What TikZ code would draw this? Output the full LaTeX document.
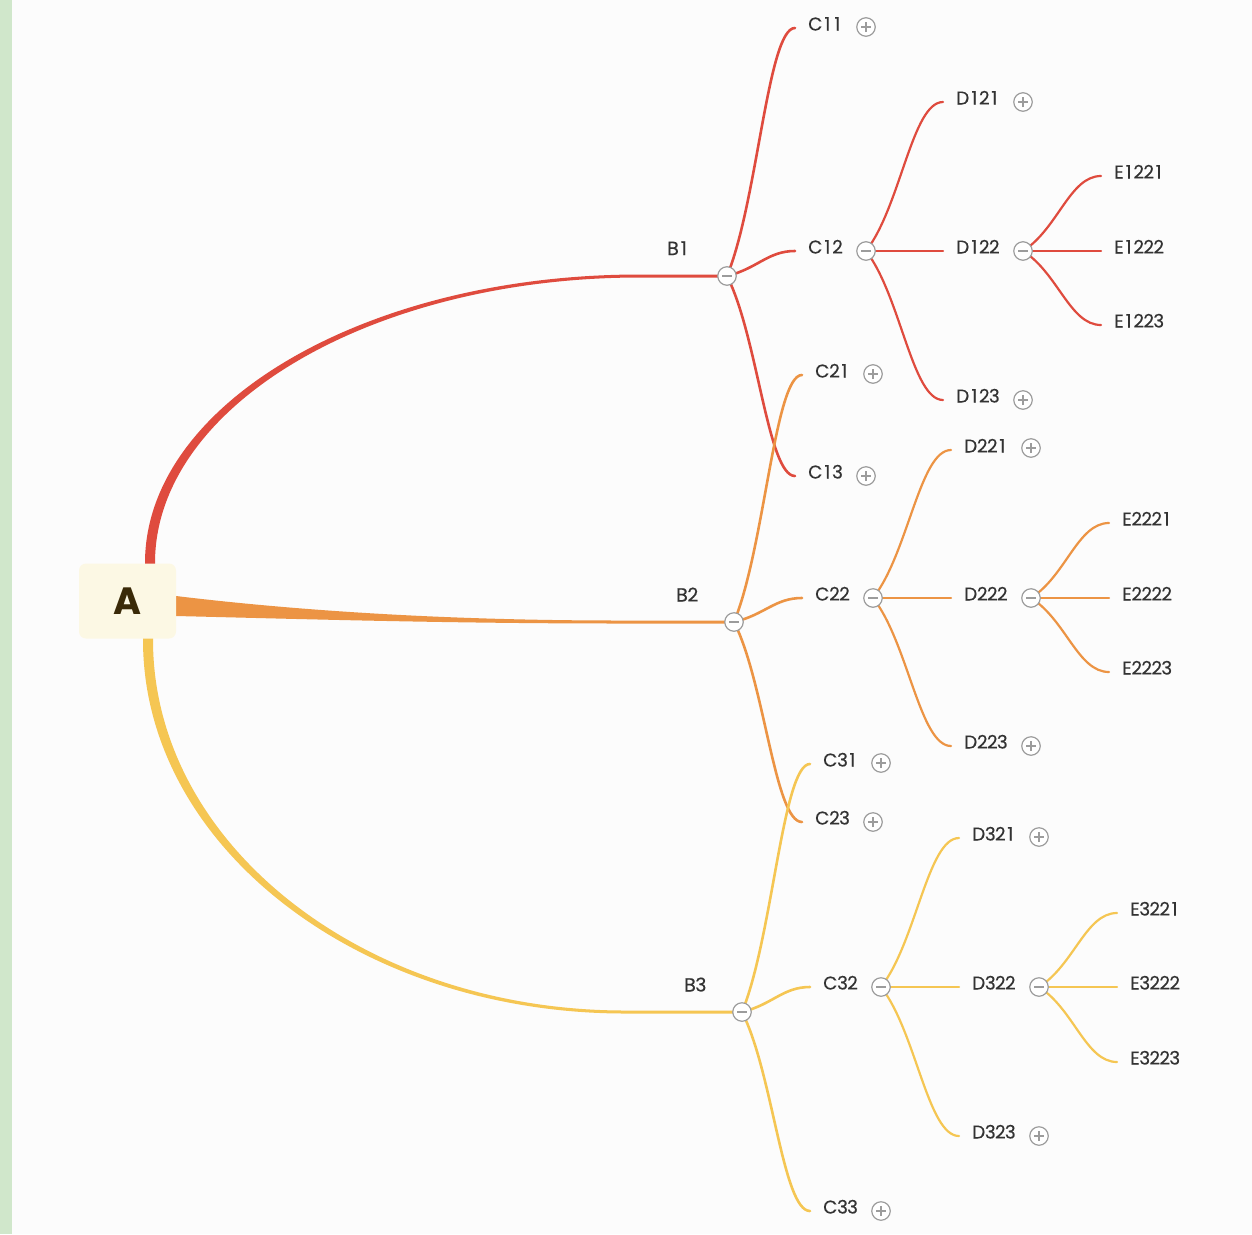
\documentclass[tikz,border=0pt]{standalone}
\usepackage{fontspec}
\setmainfont{Poppins}
\newfontfamily\lblfont{Poppins}[FakeBold=0.3]
\usetikzlibrary{calc}
\pgfdeclarelayer{back}
\pgfdeclarelayer{links}
\pgfsetlayers{back,links,main}
\definecolor{cred}{HTML}{DF4B3E}
\definecolor{corange}{HTML}{EC9444}
\definecolor{cyellow}{HTML}{F5C653}
\definecolor{tgray}{HTML}{333333}
\definecolor{togg}{HTML}{9C9C9C}
\definecolor{bgcol}{HTML}{FCFCFC}
\definecolor{stripcol}{HTML}{D0E7CB}
\definecolor{boxfill}{HTML}{FCF8E4}
\definecolor{atext}{HTML}{3A2A08}
% tabular digit cell
\newcommand\dg[1]{\makebox[10pt][c]{#1}}
\tikzset{
  lbl/.style={anchor=west, inner ysep=0pt, inner xsep=13pt, text height=10pt, text depth=5pt,
    font=\lblfont\fontsize{18.5}{20}\selectfont, text=tgray},
  blbl/.style={anchor=base, inner sep=0pt, font=\lblfont\fontsize{19}{20}\selectfont, text=tgray},
  toggle/.style={circle, draw=togg, line width=1.2pt, fill=white, minimum size=18.5pt, inner sep=0pt},
  minus/.style={toggle, path picture={\draw[togg, line width=1.2pt]
      ([xshift=-5pt]path picture bounding box.center) -- ([xshift=5pt]path picture bounding box.center);}},
  plus/.style={toggle, path picture={\draw[togg, line width=1.2pt]
      ([xshift=-5pt]path picture bounding box.center) -- ([xshift=5pt]path picture bounding box.center)
      ([yshift=-5pt]path picture bounding box.center) -- ([yshift=5pt]path picture bounding box.center);}},
  abox/.style={rounded corners=7pt, fill=boxfill, minimum width=97pt, minimum height=75pt, inner sep=0pt,
    text height=26pt, text depth=0pt, font=\bfseries\fontsize{38}{40}\selectfont, text=atext},
  cw/.style={line width=2.6pt, line cap=round},
  dw/.style={line width=2.2pt, line cap=round}
}
\newcommand\linkto[3]{\draw[#3] let \p1=(#1.center), \p2=(#2.west) in
  (\x1,\y1) .. controls ({\x1+0.45*(\x2-\x1)},{\y1+0.3*(\y2-\y1)}) and ({\x1+0.6*(\x2-\x1)},\y2) .. (\x2,\y2);}
\begin{document}
\begin{tikzpicture}[x=1pt,y=-1pt]
\begin{pgfonlayer}{back}
  \fill[bgcol] (0,0) rectangle (1252,1234);
  \fill[stripcol] (0,0) rectangle (12,1234);
\end{pgfonlayer}
\useasboundingbox (0,0) rectangle (1252,1234);

% root
\node[abox] (A) at (127.5,601) {A};

% B level
\node[minus] (b1) at (727,276) {};
\node[blbl] (b1l) at (678,255) {B\dg1};
\node[minus] (b2) at (734,622) {};
\node[blbl] (b2l) at (687,601.5) {B\dg2};
\node[minus] (b3) at (742,1012) {};
\node[blbl] (b3l) at (695,991.5) {B\dg3};

% B1 subtree
\node[lbl] (c11) at (795,28) {C\dg1\dg1};
\node[plus] (c11t) at (866,27) {};
\node[lbl] (c12) at (795,251) {C\dg1\dg2};
\node[minus] (c12t) at (866,251) {};
\node[lbl] (c13) at (795,476) {C\dg1\dg3};
\node[plus] (c13t) at (866,476) {};
\node[lbl] (d121) at (943,102) {D\dg1\dg2\dg1};
\node[plus] (d121t) at (1023,102) {};
\node[lbl] (d122) at (943,251) {D\dg1\dg2\dg2};
\node[minus] (d122t) at (1023,251) {};
\node[lbl] (d123) at (943,400) {D\dg1\dg2\dg3};
\node[plus] (d123t) at (1023,400) {};
\node[lbl] (e1221) at (1101,176) {E\dg1\dg2\dg2\dg1};
\node[lbl] (e1222) at (1101,251) {E\dg1\dg2\dg2\dg2};
\node[lbl] (e1223) at (1101,325) {E\dg1\dg2\dg2\dg3};

% B2 subtree
\node[lbl] (c21) at (802,375) {C\dg2\dg1};
\node[plus] (c21t) at (873,374) {};
\node[lbl] (c22) at (802,598) {C\dg2\dg2};
\node[minus] (c22t) at (873,598) {};
\node[lbl] (c23) at (802,822) {C\dg2\dg3};
\node[plus] (c23t) at (873,822) {};
\node[lbl] (d221) at (951,450) {D\dg2\dg2\dg1};
\node[plus] (d221t) at (1031,448) {};
\node[lbl] (d222) at (951,598) {D\dg2\dg2\dg2};
\node[minus] (d222t) at (1031,598) {};
\node[lbl] (d223) at (951,746) {D\dg2\dg2\dg3};
\node[plus] (d223t) at (1031,746) {};
\node[lbl] (e2221) at (1109,523) {E\dg2\dg2\dg2\dg1};
\node[lbl] (e2222) at (1109,598) {E\dg2\dg2\dg2\dg2};
\node[lbl] (e2223) at (1109,672) {E\dg2\dg2\dg2\dg3};

% B3 subtree
\node[lbl] (c31) at (810,764) {C\dg3\dg1};
\node[plus] (c31t) at (881,763) {};
\node[lbl] (c32) at (810,987) {C\dg3\dg2};
\node[minus] (c32t) at (881,987) {};
\node[lbl] (c33) at (810,1211) {C\dg3\dg3};
\node[plus] (c33t) at (881,1211) {};
\node[lbl] (d321) at (959,838) {D\dg3\dg2\dg1};
\node[plus] (d321t) at (1039,837) {};
\node[lbl] (d322) at (959,987) {D\dg3\dg2\dg2};
\node[minus] (d322t) at (1039,987) {};
\node[lbl] (d323) at (959,1136) {D\dg3\dg2\dg3};
\node[plus] (d323t) at (1039,1136) {};
\node[lbl] (e3221) at (1117,913) {E\dg3\dg2\dg2\dg1};
\node[lbl] (e3222) at (1117,987) {E\dg3\dg2\dg2\dg2};
\node[lbl] (e3223) at (1117,1062) {E\dg3\dg2\dg2\dg3};

\begin{pgfonlayer}{links}
  % main tapered branches
  \fill[cred] (145,600) -- (145,563) .. controls (145,403.7) and (366.3,274.5) .. (640,274.5)
     -- ([yshift=1.5pt]b1.center) -- ([yshift=-1.5pt]b1.center) -- (640,277.5)
     .. controls (372.4,277.5) and (155,405.3) .. (155,563) -- (155,600) -- cycle;
  \fill[corange] (150,596) -- (176,596) .. controls (300,611) and (450,620.5) .. (620,620.5)
     -- ([yshift=1.5pt]b2.center) -- ([yshift=-1.5pt]b2.center) -- (620,623.5)
     .. controls (450,623.5) and (300,619) .. (176,616) -- (150,616) -- cycle;
  \fill[cyellow] (143,600) -- (143,640) .. controls (143,846.3) and (358.8,1013.5) .. (625,1013.5)
     -- ([yshift=-1.5pt]b3.center) -- ([yshift=1.5pt]b3.center) -- (625,1010.5)
     .. controls (364.3,1010.5) and (153,844.6) .. (153,640) -- (153,600) -- cycle;
  % B1
  \linkto{b1}{c11}{cred,cw}
  \linkto{b1}{c12}{cred,cw}
  \linkto{b1}{c13}{cred,cw}
  \linkto{c12t}{d121}{cred,dw}
  \linkto{c12t}{d122}{cred,dw}
  \linkto{c12t}{d123}{cred,dw}
  \linkto{d122t}{e1221}{cred,dw}
  \linkto{d122t}{e1222}{cred,dw}
  \linkto{d122t}{e1223}{cred,dw}
  % B2
  \linkto{b2}{c21}{corange,cw}
  \linkto{b2}{c22}{corange,cw}
  \linkto{b2}{c23}{corange,cw}
  \linkto{c22t}{d221}{corange,dw}
  \linkto{c22t}{d222}{corange,dw}
  \linkto{c22t}{d223}{corange,dw}
  \linkto{d222t}{e2221}{corange,dw}
  \linkto{d222t}{e2222}{corange,dw}
  \linkto{d222t}{e2223}{corange,dw}
  % B3
  \linkto{b3}{c31}{cyellow,cw}
  \linkto{b3}{c32}{cyellow,cw}
  \linkto{b3}{c33}{cyellow,cw}
  \linkto{c32t}{d321}{cyellow,dw}
  \linkto{c32t}{d322}{cyellow,dw}
  \linkto{c32t}{d323}{cyellow,dw}
  \linkto{d322t}{e3221}{cyellow,dw}
  \linkto{d322t}{e3222}{cyellow,dw}
  \linkto{d322t}{e3223}{cyellow,dw}
\end{pgfonlayer}
\end{tikzpicture}
\end{document}
